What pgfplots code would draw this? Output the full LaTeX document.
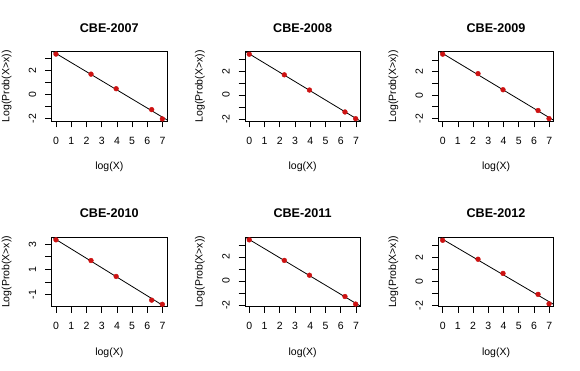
\documentclass[border=0pt]{standalone}
\usepackage{pgfplots}
\pgfplotsset{compat=1.18}
\usepackage{fontspec}
\setmainfont{Liberation Sans}
\definecolor{ptred}{RGB}{205,18,18}
\pgfplotsset{
  rpanel/.style={
    scale only axis, width=115.2pt, height=69.5pt, anchor=south west,
    xmin=-0.28, xmax=7.28,
    xtick={0,...,7},
    tick align=outside, major tick length=6.3pt,
    xtick pos=left, ytick pos=left,
    axis line style={line width=0.8pt},
    every tick/.style={black, line width=0.8pt},
    font=\fontsize{10.5}{12}\selectfont,
    /pgf/number format/assume math mode=true,
    xticklabel style={anchor=north, inner sep=0pt},
    yticklabel style={rotate=90, anchor=south, inner sep=0pt, text depth=9pt},
    xticklabel shift=9.2pt,
    xlabel={log(X)}, ylabel={Log(Prob(X>x))},
    xlabel style={at={([yshift=-46pt]axis description cs:0.5,0)}, anchor=center, inner sep=0pt},
    ylabel style={at={([xshift=-45pt]axis description cs:0,0.5)}, anchor=center, inner sep=0pt},
    every axis title shift=0pt,
    title style={at={([yshift=24pt]axis description cs:0.5,1)}, anchor=center, font=\fontsize{12.6}{14}\selectfont\bfseries, inner sep=0pt},
    ytick={-2,...,3}, yticklabels={-2,,0,,2,},
  },
  pts/.style={only marks, mark=*, mark size=2.4pt, color=ptred},
  fit/.style={black, line width=0.8pt, no marks},
}
\begin{document}
\begin{tikzpicture}
\useasboundingbox (0,0) rectangle (580pt,371pt);
% CBE-2007
\begin{axis}[rpanel, at={(51.7pt,249.8pt)}, ymin=-2.22, ymax=3.60, title={CBE-2007}]
\addplot[fit] coordinates {(-0.5,3.835) (7.5,-2.273)};
\addplot[pts] coordinates {(0,3.40) (2.30,1.72) (3.95,0.50) (6.28,-1.25) (6.98,-2.03)};
\end{axis}
% CBE-2008
\begin{axis}[rpanel, at={(245.0pt,249.8pt)}, ymin=-2.18, ymax=3.62, title={CBE-2008}]
\addplot[fit] coordinates {(-0.5,3.82) (7.5,-2.333)};
\addplot[pts] coordinates {(0,3.41) (2.30,1.69) (3.95,0.42) (6.28,-1.41) (6.98,-1.97)};
\end{axis}
% CBE-2009
\begin{axis}[rpanel, at={(438.4pt,249.8pt)}, ymin=-2.22, ymax=3.70, title={CBE-2009}]
\addplot[fit] coordinates {(-0.5,3.939) (7.5,-2.31)};
\addplot[pts] coordinates {(0,3.49) (2.32,1.83) (3.96,0.46) (6.26,-1.31) (6.98,-2.00)};
\end{axis}
% CBE-2010
\begin{axis}[rpanel, at={(51.7pt,64.3pt)}, ymin=-1.96, ymax=3.55, title={CBE-2010},
  ytick={-1,...,3}, yticklabels={-1,,1,,3}]
\addplot[fit] coordinates {(-0.5,3.74) (7.5,-2.22)};
\addplot[pts] coordinates {(0,3.34) (2.30,1.70) (3.95,0.44) (6.28,-1.44) (6.98,-1.77)};
\end{axis}
% CBE-2011
\begin{axis}[rpanel, at={(245.0pt,64.3pt)}, ymin=-2.15, ymax=3.66, title={CBE-2011}]
\addplot[fit] coordinates {(-0.5,3.845) (7.5,-2.256)};
\addplot[pts] coordinates {(0,3.44) (2.30,1.72) (3.95,0.48) (6.28,-1.30) (6.98,-1.93)};
\end{axis}
% CBE-2012
\begin{axis}[rpanel, at={(438.4pt,64.3pt)}, ymin=-2.10, ymax=3.70, title={CBE-2012}]
\addplot[fit] coordinates {(-0.5,3.90) (7.5,-2.068)};
\addplot[pts] coordinates {(0,3.44) (2.32,1.86) (3.96,0.68) (6.26,-1.07) (6.98,-1.86)};
\end{axis}
\end{tikzpicture}
\end{document}
